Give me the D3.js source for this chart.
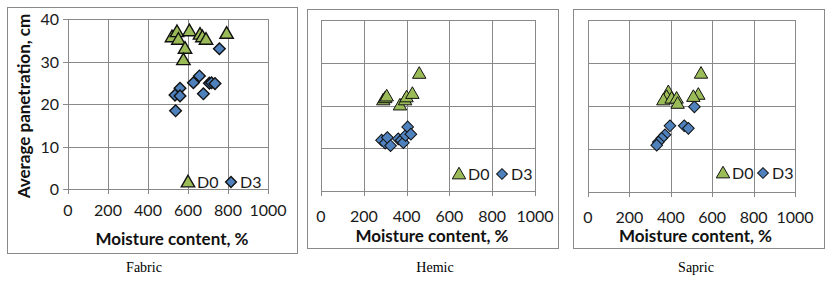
<!DOCTYPE html>
<html>
<head>
<meta charset="utf-8">
<script src="https://cdn.jsdelivr.net/npm/d3@7"></script>
<style>
  body { margin: 0; background: #fff; }
  svg { display: block; }
</style>
</head>
<body>
<div id="chart"></div>
<script>
// Tick values shared by all three panels
const xTicks = [0, 200, 400, 600, 800, 1000];
const yTicks = [0, 10, 20, 30, 40];
const seriesNames = ["D0", "D3"];
const panelNames = ["Fabric", "Hemic", "Sapric"];

// [moisture %, penetration cm]
const fabricD0 = [[520, 35.8], [545, 37.0], [552, 35.2], [607, 37.2], [585, 33.1], [577, 30.4], [660, 36.4], [672, 35.8], [690, 35.2], [793, 36.6]];
const fabricD3 = [[757, 33.0], [657, 26.6], [627, 25.0], [707, 24.9], [718, 25.0], [735, 24.8], [677, 22.4], [560, 23.7], [535, 22.1], [560, 21.9], [538, 18.4]];
const hemicD0 = [[291, 21.3], [300, 21.8], [307, 22.2], [369, 20.1], [393, 21.3], [400, 22.0], [427, 22.8], [459, 27.5]];
const hemicD3 = [[283, 11.9], [300, 11.2], [310, 12.5], [325, 10.6], [361, 12.2], [375, 11.9], [385, 11.3], [395, 13.0], [405, 15.0], [420, 13.3]];
const sapricD0 = [[546, 27.6], [533, 22.7], [509, 22.2], [388, 23.3], [380, 22.2], [364, 21.4], [404, 21.8], [428, 21.8], [433, 20.6]];
const sapricD3 = [[514, 19.8], [396, 15.4], [465, 15.4], [485, 14.8], [372, 13.3], [356, 12.5], [340, 11.6], [332, 10.9]];

const W = 834, H = 281;
const svg = d3.select("#chart").append("svg")
    .attr("width", W)
    .attr("height", H);

const gridColor = "#898989";
const green = "#9bbb59", blue = "#4f81bd";
const font = "Lato, 'Open Sans', sans-serif";

const panels = [
    { name: panelNames[0], d0: fabricD0, d3: fabricD3, box: [7, 7, 297, 253], plot: [68, 268, 19, 189],
      tickY: 216, titleY: 245, yLabels: true, legend: [188, 182], legendGap: 43, stroke: 1.4, caption: 144 },
    { name: panelNames[1], d0: hemicD0, d3: hemicD3, box: [307, 9, 558, 248], plot: [321, 535, 20, 191],
      tickY: 222, titleY: 242, yLabels: false, legend: [459, 174], legendGap: 43, stroke: 1, caption: 435 },
    { name: panelNames[2], d0: sapricD0, d3: sapricD3, box: [573, 9, 824, 248], plot: [588, 795, 20, 192],
      tickY: 223, titleY: 242, yLabels: false, legend: [723, 173], legendGap: 40, stroke: 1, caption: 696 }
];

const triangle = d3.symbol().type(d3.symbolTriangle).size(78);
const diamond = d3.symbol().type(d3.symbolSquare).size(68);

panels.forEach(p => {
    const g = svg.append("g");

    // outer chart frame
    g.append("rect")
        .attr("x", p.box[0] + 0.5)
        .attr("y", p.box[1] + 0.5)
        .attr("width", p.box[2] - p.box[0])
        .attr("height", p.box[3] - p.box[1])
        .attr("fill", "#fff")
        .attr("stroke", gridColor)
        .attr("stroke-width", 1);

    const x = d3.scaleLinear().domain([0, 1000]).range([p.plot[0], p.plot[1]]);
    const y = d3.scaleLinear().domain([0, 40]).range([p.plot[3], p.plot[2]]);

    // gridlines
    g.append("g")
        .selectAll("line.v")
        .data(xTicks)
        .join("line")
        .attr("x1", d => Math.round(x(d)) + 0.5)
        .attr("x2", d => Math.round(x(d)) + 0.5)
        .attr("y1", y(40))
        .attr("y2", y(0) + 5)
        .attr("stroke", gridColor);

    g.append("g")
        .selectAll("line.h")
        .data(yTicks)
        .join("line")
        .attr("x1", p.yLabels ? x(0) - 5 : x(0))
        .attr("x2", x(1000))
        .attr("y1", d => Math.round(y(d)) + 0.5)
        .attr("y2", d => Math.round(y(d)) + 0.5)
        .attr("stroke", gridColor);

    // x tick labels
    g.append("g")
        .selectAll("text")
        .data(xTicks)
        .join("text")
        .attr("x", d => x(d))
        .attr("y", p.tickY)
        .attr("text-anchor", "middle")
        .attr("fill", "#1a1a1a")
        .style("font-family", font)
        .style("font-size", "16px")
        .text(d => d);

    if (p.yLabels) {
        g.append("g")
            .selectAll("text")
            .data(yTicks)
            .join("text")
            .attr("x", x(0) - 9)
            .attr("y", d => y(d) + 6)
            .attr("text-anchor", "end")
            .attr("fill", "#1a1a1a")
            .style("font-family", font)
            .style("font-size", "16px")
            .text(d => d);

        g.append("text")
            .attr("transform", `translate(30, ${(p.box[1] + 205) / 2}) rotate(-90)`)
            .attr("text-anchor", "middle")
            .attr("fill", "#111")
            .style("font-family", font)
            .style("font-size", "17px")
            .style("font-weight", "bold")
            .text("Average panetration, cm");
    }

    // x axis title
    g.append("text")
        .attr("x", (p.plot[0] + p.plot[1]) / 2 + 4)
        .attr("y", p.titleY)
        .attr("text-anchor", "middle")
        .attr("fill", "#111")
        .style("font-family", font)
        .style("font-size", "17px")
        .style("font-weight", "bold")
        .text("Moisture content, %");

    // markers
    g.append("g")
        .selectAll("path")
        .data(p.d3)
        .join("path")
        .attr("d", diamond)
        .attr("transform", d => `translate(${x(d[0])},${y(d[1])}) rotate(45)`)
        .attr("fill", blue)
        .attr("stroke", "#111")
        .attr("stroke-width", p.stroke);

    g.append("g")
        .selectAll("path")
        .data(p.d0)
        .join("path")
        .attr("d", triangle)
        .attr("transform", d => `translate(${x(d[0])},${y(d[1]) + 1})`)
        .attr("fill", green)
        .attr("stroke", "#111")
        .attr("stroke-width", p.stroke);

    // legend
    const lg = g.append("g").attr("transform", `translate(${p.legend[0]},${p.legend[1]})`);
    lg.append("path")
        .attr("d", triangle)
        .attr("transform", "translate(0,1)")
        .attr("fill", green)
        .attr("stroke", "#111")
        .attr("stroke-width", p.stroke);
    lg.append("path")
        .attr("d", d3.symbol().type(d3.symbolSquare).size(58))
        .attr("transform", `translate(${p.legendGap},0) rotate(45)`)
        .attr("fill", blue)
        .attr("stroke", "#111")
        .attr("stroke-width", p.stroke);
    lg.selectAll("text")
        .data(seriesNames)
        .join("text")
        .attr("x", (d, i) => i * p.legendGap + 9)
        .attr("y", 6)
        .attr("fill", "#1a1a1a")
        .style("font-family", font)
        .style("font-size", "16px")
        .text(d => d);

    // caption under each chart
    svg.append("text")
        .attr("x", p.caption)
        .attr("y", 272)
        .attr("text-anchor", "middle")
        .attr("fill", "#000")
        .style("font-family", "'Liberation Serif', 'Times New Roman', serif")
        .style("font-size", "14px")
        .text(p.name);
});
</script>
</body>
</html>
